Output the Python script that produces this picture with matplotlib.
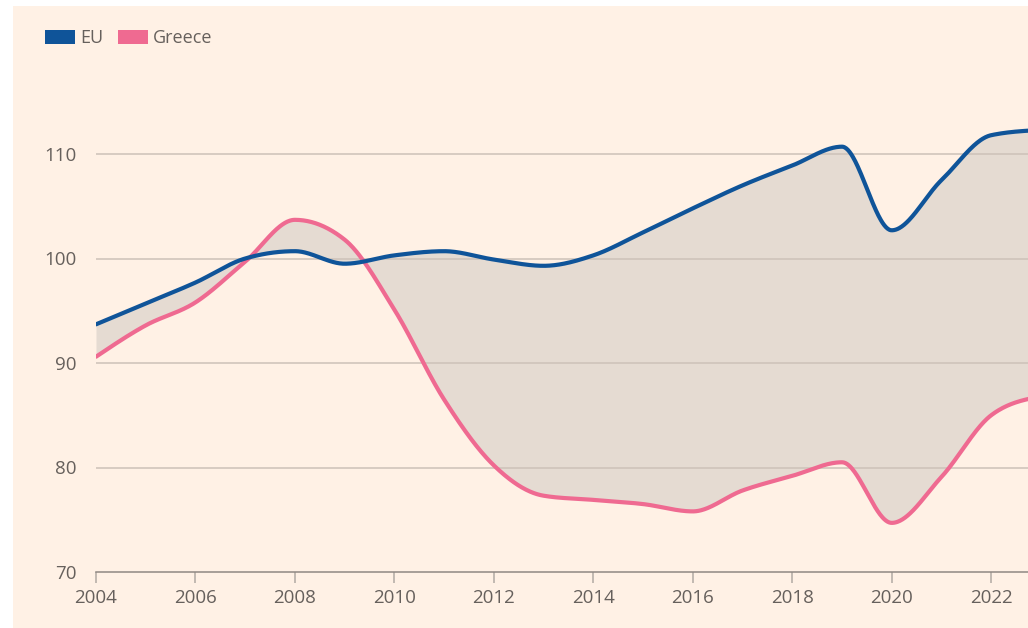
import numpy as np
import matplotlib
matplotlib.use("Agg")
import matplotlib.pyplot as plt
from matplotlib.patches import Rectangle, Patch

plt.rcParams['font.family'] = ['Open Sans', 'DejaVu Sans']

# data
years = [2004, 2005, 2006, 2007, 2008, 2009, 2010, 2011, 2012, 2013, 2014,
         2015, 2016, 2017, 2018, 2019, 2020, 2021, 2022, 2023]
eu = [93.7, 95.7, 97.7, 100.0, 100.7, 99.5, 100.3, 100.7, 99.9, 99.3, 100.3,
      102.5, 104.8, 107.0, 108.9, 110.7, 102.7, 107.5, 111.8, 112.3]
greece = [90.6, 93.6, 95.8, 99.7, 103.7, 101.8, 95.1, 86.5, 80.2, 77.3, 76.9,
          76.5, 75.8, 77.8, 79.2, 80.5, 74.7, 79.1, 85.0, 86.8]
xticks = list(range(2004, 2023, 2))
yticks = [70, 80, 90, 100, 110]

BG = "#fff1e5"
FILL = "#e5dbd2"
BLUE = "#0f5499"
PINK = "#ef6a91"
TXT = "#66605c"


def monotone(x, y, n=60):
    # monotone cubic (Steffen) like d3 curveMonotoneX
    x = np.asarray(x, float)
    y = np.asarray(y, float)
    h = np.diff(x)
    s = np.diff(y) / h
    t = np.zeros_like(y)
    for i in range(1, len(x) - 1):
        p = (s[i - 1] * h[i] + s[i] * h[i - 1]) / (h[i - 1] + h[i])
        t[i] = (np.sign(s[i - 1]) + np.sign(s[i])) * min(abs(s[i - 1]), abs(s[i]), 0.5 * abs(p))
    t[0] = (3 * s[0] - t[1]) / 2
    t[-1] = (3 * s[-1] - t[-2]) / 2
    xs, ys = [], []
    for i in range(len(x) - 1):
        u = np.linspace(0, 1, n, endpoint=False)
        h00 = 2 * u**3 - 3 * u**2 + 1
        h10 = u**3 - 2 * u**2 + u
        h01 = -2 * u**3 + 3 * u**2
        h11 = u**3 - u**2
        xs.append(x[i] + u * h[i])
        ys.append(h00 * y[i] + h10 * h[i] * t[i] + h01 * y[i + 1] + h11 * h[i] * t[i + 1])
    xs.append([x[-1]])
    ys.append([y[-1]])
    return np.concatenate(xs), np.concatenate(ys)


xe, ye = monotone(years, eu)
xg, yg = monotone(years, greece)

fig = plt.figure(figsize=(10.28, 6.28), dpi=100)
fig.patch.set_facecolor("white")
fig.patches.append(Rectangle((13 / 1028, 0), 1, 1 - 6 / 628, transform=fig.transFigure,
                             facecolor=BG, edgecolor="none", zorder=-10))

ax = fig.add_axes([96 / 1028, 56 / 628, 1 - 96 / 1028, (572 - 6) / 628])
ax.set_facecolor("none")

ax.fill_between(xe, ye, yg, color=FILL, lw=0, zorder=1)
for yv in yticks[1:]:
    ax.axhline(yv, color="#cdc2b8", lw=1.1, zorder=2)
ax.plot(xe, ye, color=BLUE, lw=3, zorder=4, solid_capstyle="round")
ax.plot(xg, yg, color=PINK, lw=3, zorder=3, solid_capstyle="round")

ax.set_xlim(2004, 2022.74)
ax.set_ylim(70, 70 + (572 - 6) / 10.45)
ax.set_xticks(xticks)
ax.set_yticks(yticks)
ax.set_xticklabels([str(v) for v in xticks])
ax.set_yticklabels([str(v) for v in yticks])

for side in ["top", "right", "left"]:
    ax.spines[side].set_visible(False)
ax.spines["bottom"].set_color("#8f8882")
ax.spines["bottom"].set_linewidth(1.1)
ax.tick_params(axis="x", direction="out", length=8, width=1.2, color="#b8b0a8",
               labelsize=13.5, labelcolor=TXT, pad=4)
ax.tick_params(axis="y", length=0, labelsize=13.5, labelcolor=TXT, pad=14)

handles = [Patch(facecolor=BLUE, edgecolor="none", label="EU"),
           Patch(facecolor=PINK, edgecolor="none", label="Greece")]
fig.legend(handles=handles, loc="upper left", bbox_to_anchor=(45 / 1028, 1 - 29 / 628),
           ncol=2, frameon=False, fontsize=13, labelcolor=TXT,
           handlelength=1.65, handleheight=0.8, handletextpad=0.3, columnspacing=0.8,
           borderaxespad=0, borderpad=0)

fig.savefig("out.png", dpi=100, facecolor=fig.get_facecolor())
